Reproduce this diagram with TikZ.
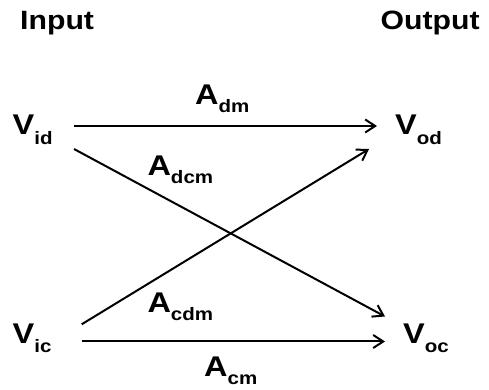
\documentclass[tikz,border=0pt]{standalone}
\usepackage{fontspec}
\setmainfont[FakeStretch=1.14]{Liberation Sans}
\usetikzlibrary{arrows.meta}
\newcommand\mysub[2]{\raisebox{-#1}{\fontsize{18}{18}\selectfont #2}}
\begin{document}
\begin{tikzpicture}[x=1pt,y=1pt,
  head/.style={inner sep=0pt,anchor=base west,font=\fontsize{26.5}{26.5}\selectfont\bfseries},
  lbl/.style={inner sep=0pt,anchor=base west,font=\fontsize{28.5}{28.5}\selectfont\bfseries},
  conn/.style={line width=2pt,-{Straight Barb[length=10pt,width=13pt,line width=2pt]}}]
\useasboundingbox (0,0) rectangle (489,390);
\node[head] (in) at (20,360.7) {Input};
\node[head] (out) at (380.5,360.7) {Output};
\node[lbl] (vid) at (12.5,255) {V\mysub{9.5pt}{id}};
\node[lbl] (vod) at (395,255) {V\mysub{9.5pt}{od}};
\node[lbl] (vic) at (12.5,46.5) {V\mysub{9.5pt}{ic}};
\node[lbl] (voc) at (403,46.5) {V\mysub{9.5pt}{oc}};
\node[lbl] (adm) at (195,285) {A\mysub{8pt}{dm}};
\node[lbl] (adcm) at (147.3,214) {A\mysub{8pt}{dcm}};
\node[lbl] (acdm) at (147.3,77.3) {A\mysub{8pt}{cdm}};
\node[lbl] (acm) at (204,13.3) {A\mysub{8pt}{cm}};
\coordinate (vid-a) at (74,264);
\coordinate (vid-b) at (74,241);
\coordinate (vod-a) at (377,264);
\coordinate (vod-b) at (369,241);
\coordinate (vic-a) at (81.7,65.7);
\coordinate (vic-b) at (81.7,48.5);
\coordinate (voc-a) at (385,73.5);
\coordinate (voc-b) at (385,48.5);
\draw[conn] (vid-a) -- (vod-a);
\draw[conn] (vid-b) -- (voc-a);
\draw[conn] (vic-a) -- (vod-b);
\draw[conn] (vic-b) -- (voc-b);
\end{tikzpicture}
\end{document}
